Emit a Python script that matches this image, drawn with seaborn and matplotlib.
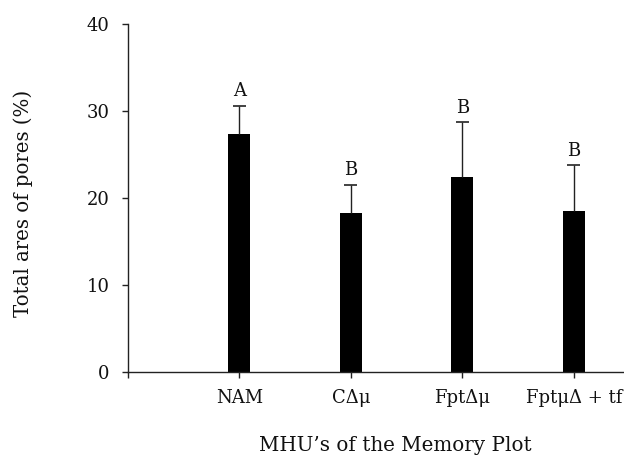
import matplotlib
matplotlib.use("Agg")
import matplotlib.pyplot as plt
import seaborn as sns
import pandas as pd

categories = ["NAM", "C\u0394\u03bc", "Fpt\u0394\u03bc", "Fpt\u03bc\u0394 + tf"]
means = [27.3, 18.25, 22.45, 18.55]
upper_err = [3.3, 3.3, 6.25, 5.2]
letters = ["A", "B", "B", "B"]
y_ticks = [0, 10, 20, 30, 40]

sns.set_theme(style="ticks")
plt.rcParams["font.family"] = ["DejaVu Serif", "DejaVu Sans"]

df = pd.DataFrame({"cat": categories, "val": means})

fig = plt.figure(figsize=(6.24, 4.58), dpi=100)
ax = fig.add_axes([0.2047, 0.1878, 0.7953, 0.7598])

sns.barplot(data=df, x="cat", y="val", order=categories, color="black",
            width=0.195, errorbar=None, ax=ax, saturation=1, linewidth=0)

xs = list(range(len(categories)))
tops = [m + e for m, e in zip(means, upper_err)]
cap_half = 0.057
ax.vlines(xs, means, tops, colors="#222222", linewidth=1, zorder=3)
ax.hlines(tops, [x - cap_half for x in xs], [x + cap_half for x in xs],
          colors="#222222", linewidth=1.2, zorder=3)
for x, t, l in zip(xs, tops, letters):
    ax.annotate(l, (x, t), xytext=(0, 4), textcoords="offset points",
                ha="center", va="bottom", fontsize=13, color="#111111")

ax.set_xlim(-1, 3.45)
ax.set_ylim(0, 40)
ax.set_yticks(y_ticks)
ax.set_xticks([-1] + xs)
ax.set_xticklabels([""] + categories)
ax.tick_params(axis="both", direction="out", length=4, width=1, colors="#222222",
               labelsize=13, labelcolor="#111111")
ax.tick_params(axis="y", pad=9)
ax.tick_params(axis="x", pad=8)
for s in ["top", "right"]:
    ax.spines[s].set_visible(False)
for s in ["left", "bottom"]:
    ax.spines[s].set_linewidth(1)
    ax.spines[s].set_color("#222222")

ax.set_xlabel("MHU\u2019s of the Memory Plot", fontsize=14.3, color="#111111")
ax.set_ylabel("Total ares of pores (%)", fontsize=14.2, color="#111111")
ax.xaxis.set_label_coords(0.5386, -0.185)
ax.yaxis.set_label_coords(-0.191, 0.484)

fig.savefig("out.png", dpi=100)
